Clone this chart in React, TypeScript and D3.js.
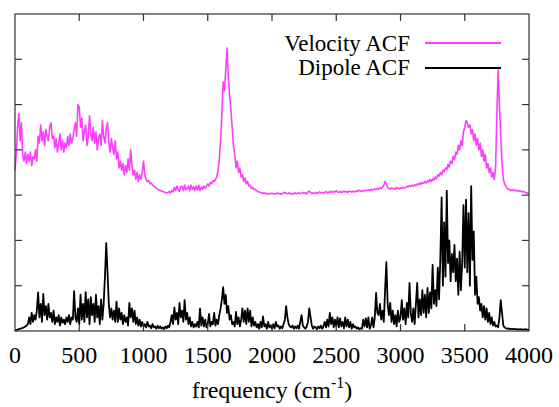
import React from "react";
import * as d3 from "d3";

// sample frequencies (cm^-1), step 10
const freqs: number[] = d3.range(0, 4001, 10);

// Velocity ACF (offset upward, in plot units)
const velocity: number[] = [
  3.55, 3.9, 4.5, 4.8, 4.2, 4.6, 3.9, 3.75, 3.95, 3.7, 3.9,
  3.75, 3.95, 3.65, 3.85, 3.8, 4.0, 3.75, 4.3, 4.15, 4.55,
  4.2, 4.4, 4.1, 4.45, 4.3, 4.2, 4.5, 4.6, 4.25, 4.3,
  4.05, 4.25, 3.95, 4.15, 4.35, 4.0, 4.2, 3.95, 4.15, 4.05,
  4.3, 4.1, 4.35, 4.15, 4.25, 4.45, 4.6, 4.3, 5.0, 4.95,
  4.5, 4.7, 4.2, 4.4, 4.55, 4.1, 4.3, 4.75, 4.35, 4.2,
  4.5, 4.15, 4.4, 4.0, 4.25, 4.35, 4.1, 4.65, 4.3, 4.15,
  4.45, 4.6, 4.2, 3.95, 4.25, 4.05, 3.9, 4.2, 3.8, 3.95,
  3.6, 3.75, 3.55, 3.7, 3.45, 3.65, 3.5, 3.8, 3.55, 4.0,
  3.65, 3.45, 3.55, 3.35, 3.5, 3.3, 3.45, 3.35, 3.5, 3.75,
  3.45, 3.35, 3.3, 3.32, 3.25, 3.27, 3.22, 3.2, 3.18, 3.15,
  3.13, 3.12, 3.1, 3.09, 3.08, 3.07, 3.06, 3.05, 3.06, 3.08,
  3.05, 3.1, 3.07, 3.17, 3.1, 3.2, 3.12, 3.08, 3.18, 3.2,
  3.1, 3.22, 3.12, 3.15, 3.2, 3.1, 3.22, 3.13, 3.18, 3.1,
  3.2, 3.12, 3.22, 3.1, 3.18, 3.13, 3.2, 3.15, 3.2, 3.25,
  3.2, 3.28, 3.25, 3.32, 3.3, 3.35, 3.4, 3.55, 3.8, 4.2,
  4.8, 5.5, 5.3, 5.76, 6.25, 5.6, 5.2, 4.9, 4.5, 4.1,
  3.9, 3.6, 3.75, 3.5, 3.6, 3.4, 3.45, 3.3, 3.38, 3.25,
  3.3, 3.2, 3.22, 3.15, 3.17, 3.12, 3.13, 3.1, 3.08, 3.07,
  3.06, 3.05, 3.04, 3.05, 3.03, 3.04, 3.02, 3.03, 3.04, 3.03,
  3.04, 3.02, 3.03, 3.05, 3.03, 3.04, 3.02, 3.03, 3.05, 3.06,
  3.04, 3.03, 3.05, 3.03, 3.04, 3.02, 3.04, 3.05, 3.03, 3.04,
  3.05, 3.03, 3.04, 3.06, 3.04, 3.05, 3.03, 3.07, 3.09, 3.06,
  3.04, 3.05, 3.03, 3.06, 3.04, 3.05, 3.07, 3.05, 3.06, 3.04,
  3.06, 3.08, 3.05, 3.07, 3.06, 3.09, 3.06, 3.08, 3.07, 3.1,
  3.07, 3.06, 3.08, 3.06, 3.07, 3.09, 3.07, 3.08, 3.06, 3.09,
  3.08, 3.07, 3.09, 3.07, 3.08, 3.1, 3.08, 3.11, 3.09, 3.08,
  3.1, 3.09, 3.11, 3.1, 3.12, 3.1, 3.13, 3.11, 3.12, 3.14,
  3.12, 3.15, 3.13, 3.16, 3.15, 3.18, 3.22, 3.3, 3.24, 3.17,
  3.15, 3.13, 3.16, 3.14, 3.15, 3.13, 3.17, 3.15, 3.14, 3.16,
  3.15, 3.18, 3.16, 3.17, 3.2, 3.18, 3.21, 3.19, 3.22, 3.2,
  3.23, 3.21, 3.25, 3.23, 3.27, 3.24, 3.28, 3.26, 3.3, 3.27,
  3.32, 3.29, 3.35, 3.3, 3.36, 3.33, 3.4, 3.36, 3.45, 3.42,
  3.5, 3.45, 3.55, 3.52, 3.6, 3.56, 3.68, 3.62, 3.75, 3.7,
  3.85, 3.78, 3.95, 3.9, 4.1, 4.0, 4.2, 4.1, 4.4, 4.5,
  4.65, 4.6, 4.5, 4.55, 4.35, 4.45, 4.2, 4.35, 4.1, 4.25,
  4.0, 4.15, 3.85, 4.0, 3.75, 3.9, 3.6, 3.7, 3.5, 3.6,
  3.4, 3.5, 3.35, 3.6, 4.8, 5.76, 5.0, 4.3, 3.7, 3.35,
  3.25, 3.2, 3.15, 3.13, 3.12, 3.1, 3.12, 3.1, 3.11, 3.1,
  3.09, 3.1, 3.08, 3.09, 3.07, 3.08, 3.06, 3.05, 3.04, 3.03,
];

// Dipole ACF (baseline at 0)
const dipole: number[] = [
  0.01, 0.02, 0.03, 0.04, 0.05, 0.06, 0.07, 0.08, 0.1, 0.12, 0.15,
  0.3, 0.15, 0.4, 0.2, 0.35, 0.25, 0.45, 0.85, 0.3, 0.6,
  0.2, 0.82, 0.35, 0.55, 0.25, 0.6, 0.3, 0.4, 0.2, 0.45,
  0.15, 0.3, 0.2, 0.35, 0.12, 0.3, 0.18, 0.25, 0.15, 0.3,
  0.2, 0.35, 0.15, 0.3, 0.25, 0.88, 0.3, 0.2, 0.5, 0.15,
  0.8, 0.25, 0.6, 0.2, 0.86, 0.3, 0.7, 0.15, 0.75, 0.35,
  0.6, 0.2, 0.8, 0.3, 0.55, 0.15, 0.7, 0.25, 0.6, 1.2,
  1.94, 1.3, 0.6, 0.3, 0.5, 0.25, 0.45, 0.2, 0.65, 0.2,
  0.5, 0.25, 0.4, 0.15, 0.35, 0.2, 0.3, 0.12, 0.62, 0.3,
  0.5, 0.2, 0.45, 0.15, 0.3, 0.12, 0.25, 0.1, 0.2, 0.1,
  0.15, 0.08, 0.2, 0.1, 0.12, 0.06, 0.15, 0.08, 0.1, 0.05,
  0.12, 0.06, 0.1, 0.05, 0.08, 0.04, 0.1, 0.06, 0.12, 0.08,
  0.2, 0.35, 0.15, 0.52, 0.25, 0.4, 0.15, 0.62, 0.3, 0.45,
  0.2, 0.68, 0.25, 0.4, 0.15, 0.3, 0.1, 0.2, 0.08, 0.15,
  0.1, 0.2, 0.08, 0.5, 0.12, 0.3, 0.1, 0.25, 0.08, 0.15,
  0.38, 0.1, 0.2, 0.15, 0.4, 0.12, 0.25, 0.15, 0.35, 0.5,
  0.7, 0.97, 0.6, 0.8, 0.4, 0.55, 0.25, 0.35, 0.15, 0.2,
  0.1, 0.42, 0.15, 0.3, 0.1, 0.25, 0.5, 0.2, 0.45, 0.15,
  0.5, 0.2, 0.45, 0.1, 0.3, 0.12, 0.2, 0.08, 0.15, 0.05,
  0.2, 0.08, 0.32, 0.1, 0.15, 0.05, 0.2, 0.08, 0.12, 0.05,
  0.15, 0.06, 0.2, 0.1, 0.12, 0.05, 0.1, 0.06, 0.15, 0.25,
  0.55, 0.3, 0.15, 0.1, 0.08, 0.12, 0.05, 0.1, 0.06, 0.12,
  0.05, 0.2, 0.35, 0.12, 0.08, 0.05, 0.1, 0.2, 0.5, 0.3,
  0.12, 0.05, 0.1, 0.08, 0.04, 0.1, 0.06, 0.12, 0.05, 0.1,
  0.2, 0.08, 0.25, 0.1, 0.4, 0.15, 0.3, 0.08, 0.25, 0.1,
  0.3, 0.08, 0.28, 0.1, 0.2, 0.06, 0.3, 0.1, 0.25, 0.08,
  0.2, 0.05, 0.15, 0.08, 0.1, 0.05, 0.08, 0.04, 0.06, 0.05,
  0.25, 0.1, 0.28, 0.08, 0.3, 0.05, 0.12, 0.3, 0.08, 0.3,
  0.84, 0.4, 0.35, 0.6, 0.25, 0.45, 0.2, 0.9, 1.52, 0.6,
  0.35, 0.62, 0.2, 0.45, 0.15, 0.35, 0.1, 0.45, 0.2, 0.3,
  0.68, 0.25, 0.5, 0.15, 0.62, 0.3, 1.06, 0.4, 0.2, 0.5,
  0.15, 0.6, 1.06, 0.3, 0.7, 0.35, 0.9, 0.4, 0.8, 0.3,
  0.95, 0.4, 0.85, 0.5, 1.46, 0.6, 0.9, 0.55, 1.4, 0.7,
  1.6, 2.95, 1.0, 2.4, 1.2, 3.1, 1.5, 2.0, 1.1, 1.7,
  1.3, 1.9, 1.1, 1.6, 0.8, 1.75, 0.9, 1.5, 2.78, 1.4,
  2.9, 1.3, 2.6, 1.0, 3.2, 1.57, 2.2, 0.8, 1.2, 0.6,
  0.75, 0.45, 0.6, 0.3, 0.55, 0.25, 0.5, 0.2, 0.4, 0.15,
  0.3, 0.12, 0.2, 0.1, 0.12, 0.08, 0.3, 0.68, 0.4, 0.12,
  0.08, 0.06, 0.05, 0.06, 0.04, 0.05, 0.04, 0.05, 0.04, 0.04,
  0.03, 0.04, 0.03, 0.04, 0.03, 0.03, 0.04, 0.03, 0.03, 0.03,
];

const xTicks: number[] = [0, 500, 1000, 1500, 2000, 2500, 3000, 3500, 4000];
const yTicks: number[] = [1, 2, 3, 4, 5, 6];
const seriesNames: string[] = ["Velocity ACF", "Dipole ACF"];
const seriesColors: string[] = ["#ff3dff", "#000000"];

const W = 559;
const H = 407;
const L = 15, R = 529, T = 14, B = 331;
const FONT = "Liberation Serif, Times New Roman, DejaVu Serif, serif";

export default function App() {
  const x = d3.scaleLinear().domain([0, 4000]).range([L, R]);
  const y = d3.scaleLinear().domain([0, 7]).range([B, T]);
  const line = d3
    .line<number>()
    .x((_, i) => x(freqs[i]))
    .y((d) => y(d));
  const tick = 7;
  const txt = { fontFamily: FONT, fontSize: "24px" } as React.CSSProperties;
  return (
    <svg
      width={W}
      height={H}
      style={{ position: "absolute", left: 0, top: 0, background: "#fff" }}
    >
      <rect x={0} y={0} width={W} height={H} fill="#fff" />
      <path d={line(velocity) || ""} fill="none" stroke={seriesColors[0]} strokeWidth={1.6} strokeLinejoin="round" />
      <path d={line(dipole) || ""} fill="none" stroke={seriesColors[1]} strokeWidth={1.8} strokeLinejoin="round" />
      <rect x={L} y={T} width={R - L} height={B - T} fill="none" stroke="#333" strokeWidth={1.2} />
      {xTicks.slice(1, -1).map((t) => (
        <g key={"xt" + t}>
          <line x1={x(t)} x2={x(t)} y1={B} y2={B - tick} stroke="#333" strokeWidth={1.2} />
          <line x1={x(t)} x2={x(t)} y1={T} y2={T + tick} stroke="#333" strokeWidth={1.2} />
        </g>
      ))}
      {yTicks.map((t) => (
        <g key={"yt" + t}>
          <line x1={L} x2={L + tick} y1={y(t)} y2={y(t)} stroke="#333" strokeWidth={1.2} />
          <line x1={R} x2={R - tick} y1={y(t)} y2={y(t)} stroke="#333" strokeWidth={1.2} />
        </g>
      ))}
      {xTicks.map((t) => (
        <text key={"xl" + t} x={x(t)} y={363} textAnchor="middle" style={txt} fill="#000">
          {t}
        </text>
      ))}
      <text x={(L + R) / 2} y={398} textAnchor="middle" style={txt} fill="#000">
        frequency (cm
        <tspan style={{ fontSize: "16px" }} dy={-10}>-1</tspan>
        <tspan dy={10}>)</tspan>
      </text>
      {seriesNames.map((n, i) => (
        <g key={n}>
          <text x={410} y={51 + i * 24} textAnchor="end" style={{ ...txt, fontSize: "23px" }} fill="#000">
            {n}
          </text>
          <line x1={425} x2={501} y1={43 + i * 25} y2={43 + i * 25} stroke={seriesColors[i]} strokeWidth={2} />
        </g>
      ))}
    </svg>
  );
}
